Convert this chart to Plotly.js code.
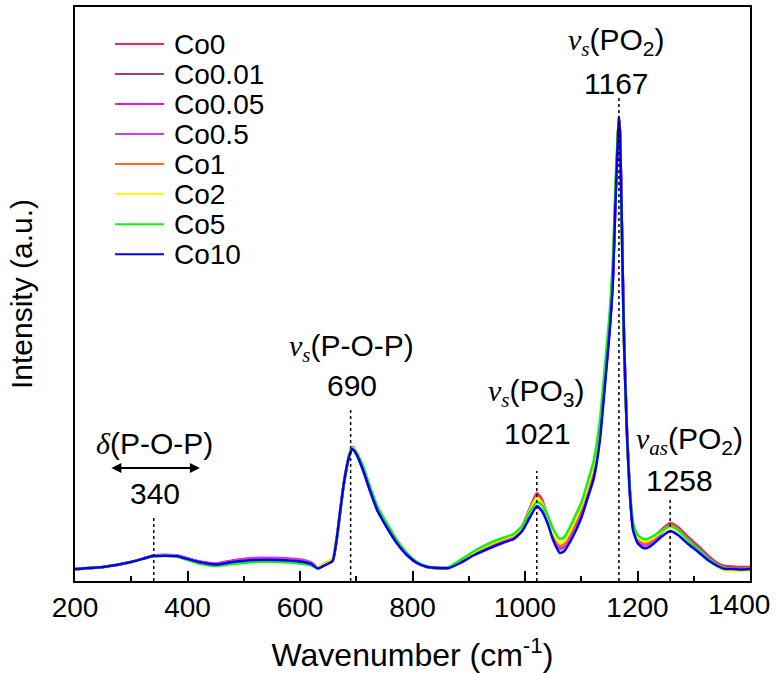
<!DOCTYPE html>
<html>
<head>
<meta charset="utf-8">
<script src="https://cdn.plot.ly/plotly-3.0.1.min.js"></script>
<style>html,body{margin:0;padding:0;background:#fff;}#chart{width:778px;height:673px;}</style>
</head>
<body>
<div id="chart"></div>
<script>
// Raman shift grid (cm-1)
const wavenumber = [200,250,300,340,380,420,450,480,520,560,600,620,632,645,658,665,671,677,683,688,693,700,712,724,738,754,772,790,808,826,845,865,885,910,938,960,980,995,1008,1021,1030,1040,1050,1062,1070,1080,1090,1100,1112,1122,1133,1142,1150,1156,1161,1165,1167,1169,1172,1176,1181,1186,1192,1200,1210,1217,1228,1242,1258,1272,1290,1308,1325,1342,1355,1370,1385,1400];

const seriesNames = ["Co0","Co0.01","Co0.05","Co0.5","Co1","Co2","Co5","Co10"];

// Intensities (a.u.)
const co0    = [11.5,14,19,25,25,19,17,20,22,22,20.5,17.5,13,17,21,41,68,94,114,127,134,128,111.5,91.5,70.5,54.5,38.5,26.5,18,14,13,13.5,20,28.5,36,41,45,55,72,88,82,64,46,34,36,46,58,70,92,110,148,202,252,302,387,444,463,446,362,244,155,95,56,43,38,38,43,51,58,54,44,35,25.5,18,15,14.5,14,14];
const co001  = [12,14,19,25.5,25.5,19.5,17,20,22.5,22.5,21,18,13,16.5,20.5,41,68,94,114,127,134,128,111.5,91.5,70.5,54.5,38.5,26.5,18,14,13,13.5,19.5,28,35,40,44,53,71,86,80,62,44,32,34,44,56,68,89,107,145,199,249,299,384,443,464,447,363,244,154,93,53,40,36,36,40,48,56,52,42,33,23.5,16.5,13.5,13,12.5,12.5];
const co005  = [12,14,19,25.5,25.5,19.5,17.5,20.5,23,23,21.5,18.5,13,16.5,21,41,68,94,114,127,134,128,111.5,91.5,70.5,54.5,38.5,26.5,18,14,13,13.5,19.5,28,35,40,44,53,70,85,79,62,44,33,35,45,57,68,90,108,146,200,250,300,385,443,464,447,362,243,153,93,54,41,37,37,41,49,56,52,42,33,23.5,16,13,12.5,12,12];
const co05   = [12,14,19,25.5,25.5,19.5,17,20,22.5,22.5,21,18,13,16.5,20.5,41,68,94,114,127,133.5,128,111.5,91.5,70.5,54.5,38.5,26.5,18,14,13,13.5,19.5,28,35,40,44,53,70,84,78,62,44,33,35,45,57,67,90,108,146,200,250,300,385,443,464,447,362,243,153,92,53,40,36,36,40,48,55,51,41,32,23,16,13,12.5,12,12];
const co1    = [12,14,19,25,25,19,16.5,19,21,21,19.5,17,13.5,18,22,42,68,94,114,127,133,128,112,92,71,55,39,27,18.5,14,13,13.5,20,28,36,41,45,54,71,85,79,64,46,35,37,47,59,72,93,112,150,204,255,306,390,445,463,444,357,239,150,92,54,42,38,38,42,49,56,52,41,32,23,16,13,12.5,12,12.5];
const co2    = [12,14,19,25,25,18.5,16,18,20,20,18.5,16.5,13.5,17.5,22,42,68,94,114,127,133,128,112,92,71,55,39,27,18.5,14,13,13.5,20,29,37,42,46,54,70,83,78,64,48,38,40,50,62,75,96,116,154,208,258,310,393,446,462,442,354,238,150,93,56,44,40,40,43,49,54,50,40,31,22,14,10.5,10,10,10];
const co5    = [12,14,19,25,24.5,17.5,15,17,19,19,17.5,15.5,12.5,16,20,40,66,93,113,126,132,129,115,95,74,58,41,28,19,14.5,13,14,21,30,38,43,47,55,69,79,76,66,52,42,44,54,66,78,100,120,160,215,265,318,398,447,460,438,350,236,150,95,58,46,42,42,45,50,55,51,41,32,23,16,13,12,12,12];
const co10   = [12,14,19,25,25,19,16.5,19,21,21,19.5,17,12.5,16,20,41,68,94,114,126,132,127,111,91,70,54,38,26,18,14,13,13,18,26,33,38,42,50,63,75,70,58,41,28,30,39,50,63,84,102,140,195,246,296,381,441,463,446,361,241,151,91,51,38,33,33,37,44,50,46,37,29,21,15,12,12,11.5,12];

const seriesValues = [co0, co001, co005, co05, co1, co2, co5, co10];

// x tick values and labels
const xTickVals = [200, 400, 600, 800, 1000, 1200, 1400];
const xTickText = ["200", "400", "600", "800", "1000", "1200", "1400"];

// Band assignments
const bandPositions = [340, 690, 1021, 1167, 1258];
const bandLabels = ["340", "690", "1021", "1167", "1258"];

// ---- styles / layout ----
const colors = ["#ff1f5e","#9a3d8e","#ff10cc","#cc3cf5","#ff6a1a","#ffff00","#14f014","#0000ff"];
const serif = "Liberation Serif, Times New Roman, serif";
const vs = "<span style='font-family:" + serif + "'><i>v</i><sub><i>s</i></sub></span>";
const vas = "<span style='font-family:" + serif + "'><i>v</i><sub><i>as</i></sub></span>";
const delta = "<span style='font-family:" + serif + "'><i>δ</i></span>";
const bandNames = [delta + "(P-O-P)", vs + "(P-O-P)", vs + "(PO<sub>3</sub>)", vs + "(PO<sub>2</sub>)", vas + "(PO<sub>2</sub>)"];
// label placement (x in cm-1, y in a.u.)
const nameXY = [[342,138],[692,233],[1021,188],[1163,539],[1293,140]];
const numXY  = [[342,88],[692,196],[1023,148],[1162,498],[1274,101]];
const dropTop = [63,173,110,484,81];

const traces = seriesNames.map((n, i) => ({
  x: wavenumber, y: seriesValues[i], name: n, type: "scatter", mode: "lines",
  line: {color: colors[i], width: 2.5, shape: "spline", smoothing: 0.5}
}));

const annotations = [];
bandPositions.forEach((b, i) => {
  annotations.push({x: nameXY[i][0], y: nameXY[i][1], xref: "x", yref: "y", text: bandNames[i], showarrow: false, font: {size: 30, color: "#000"}});
  annotations.push({x: numXY[i][0], y: numXY[i][1], xref: "x", yref: "y", text: bandLabels[i], showarrow: false, font: {size: 30, color: "#000"}});
});
// double arrow under delta label
annotations.push({x: 422, y: 113, ax: 262, ay: 113, xref: "x", yref: "y", axref: "x", ayref: "y", text: "", showarrow: true, arrowhead: 2, arrowside: "end+start", arrowsize: 1, arrowwidth: 2, arrowcolor: "#000"});

// last tick label kept inside the picture, as in the reference
const lastTick = xTickVals.length - 1;
annotations.push({x: xTickVals[lastTick], y: -0.0401, xref: "x", yref: "paper", xshift: -11, yanchor: "middle", text: xTickText[lastTick], showarrow: false, font: {size: 28, color: "#000"}});
const shownTickText = xTickText.map((t, i) => i === lastTick ? "" : t);

const shapes = bandPositions.map((b, i) => ({
  type: "line", xref: "x", yref: "y", x0: b, x1: b, y0: 0, y1: dropTop[i],
  line: {color: "#000", width: 1.5, dash: "dot"}, layer: "above"
}));

// legend box (paper coordinates)
const legX0 = 0.0593, legX1 = 0.1319, legTextX = 0.1437, legY0 = 0.9355, legStep = 0.0523;
seriesNames.forEach((n, i) => {
  const yy = legY0 - i * legStep;
  shapes.push({type: "line", xref: "paper", yref: "paper", x0: legX0, x1: legX1, y0: yy, y1: yy, line: {color: colors[i], width: 2}});
  annotations.push({x: legTextX, y: yy, xref: "paper", yref: "paper", xanchor: "left", yanchor: "middle", text: n, showarrow: false, font: {size: 28, color: "#000"}});
});

const font = "Liberation Sans, Arial, sans-serif";
const layout = {
  width: 778, height: 673,
  margin: {l: 75, r: 28, t: 7, b: 92},
  paper_bgcolor: "#fff", plot_bgcolor: "#fff",
  font: {family: font, color: "#000"},
  showlegend: false,
  xaxis: {
    range: [199.99, 1400.01], tickvals: xTickVals, ticktext: shownTickText, ticks: "inside", ticklen: 10, tickwidth: 2, tickcolor: "#000",
    minor: {dtick: 100, tick0: 200, ticks: "inside", ticklen: 5, tickwidth: 2, tickcolor: "#000"},
    showline: true, linewidth: 2, linecolor: "#000", mirror: true, showgrid: false, zeroline: false,
    tickfont: {size: 28}, automargin: false, ticklabeloverflow: "allow",
    title: {text: "Wavenumber (cm<sup>-1</sup>)", font: {size: 32}, standoff: 22}
  },
  yaxis: {
    range: [0, 574], showticklabels: false, ticks: "", showline: true, linewidth: 2, linecolor: "#000", mirror: true,
    showgrid: false, zeroline: false, automargin: false,
    title: {text: "Intensity (a.u.)", font: {size: 30}, standoff: 32}
  },
  annotations: annotations,
  shapes: shapes
};

Plotly.newPlot("chart", traces, layout, {displayModeBar: false, staticPlot: true});
</script>
</body>
</html>
